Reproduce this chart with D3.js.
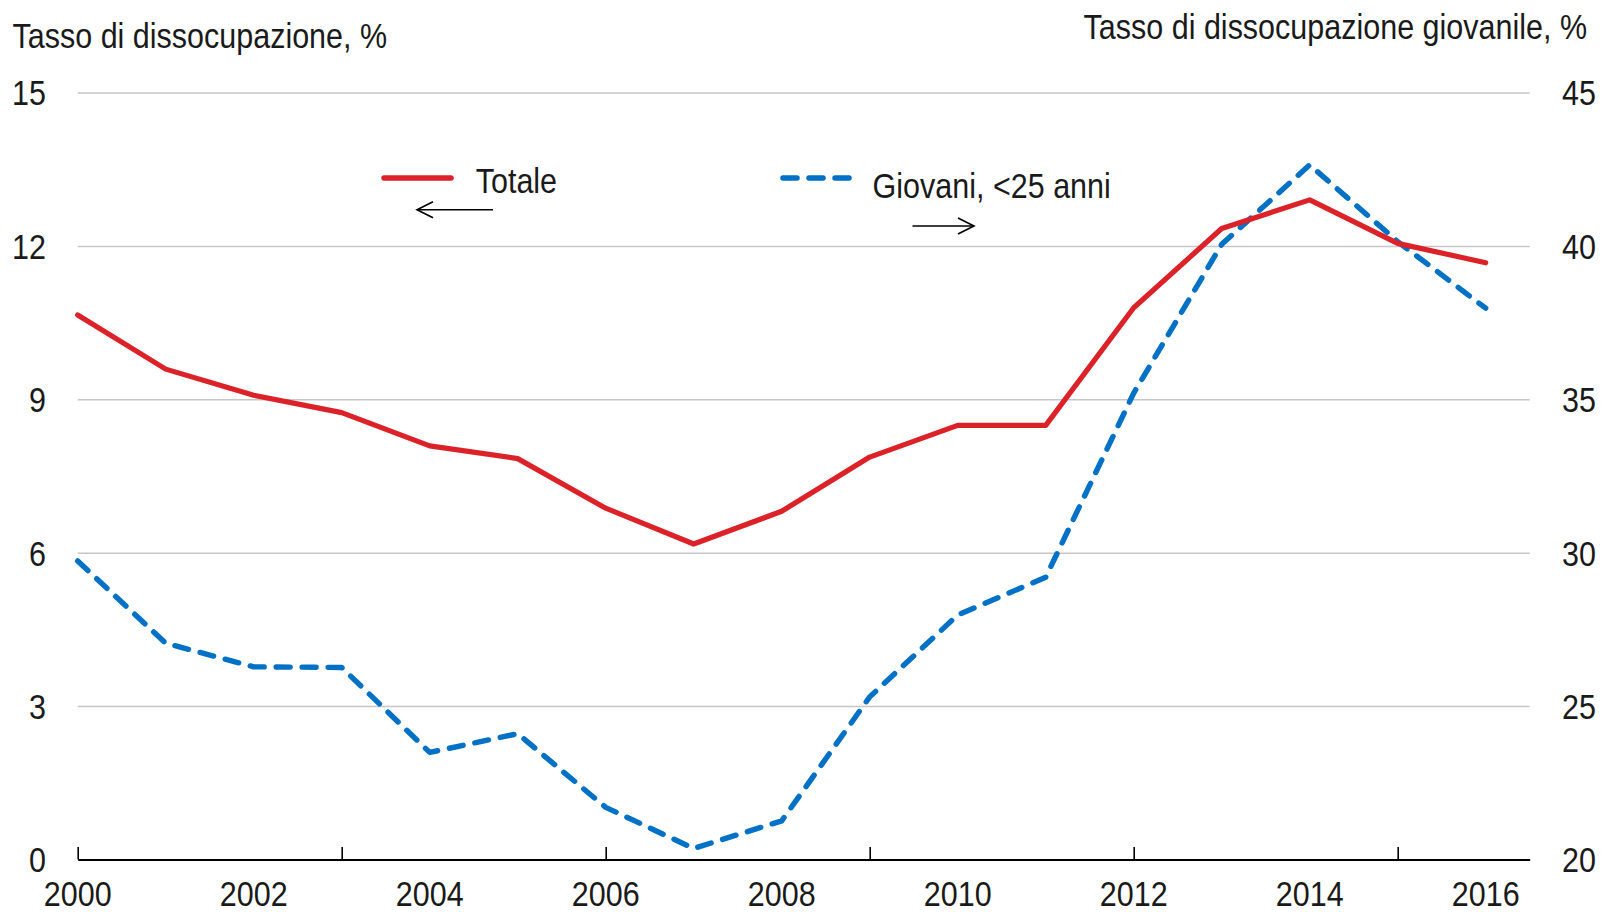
<!DOCTYPE html>
<html><head><meta charset="utf-8">
<script src="https://cdn.jsdelivr.net/npm/d3@7"></script>
<style>body{margin:0;background:#fff}</style>
</head><body><svg id="c" width="1604" height="912"></svg>
<script>
const years = [2000,2001,2002,2003,2004,2005,2006,2007,2008,2009,2010,2011,2012,2013,2014,2015,2016];
const totale = [10.65,9.59,9.08,8.74,8.09,7.84,6.87,6.17,6.81,7.87,8.49,8.49,10.79,12.34,12.9,12.05,11.67];
const giovani = [29.73,27.05,26.28,26.26,23.49,24.1,21.7,20.36,21.26,25.3,27.97,29.2,35.2,40.05,42.64,40.14,37.97];
const leftTicks = [0,3,6,9,12,15];
const rightTicks = [20,25,30,35,40,45];
const xTickYears = [2000,2003,2006,2009,2012,2015];
const xLabelYears = [2000,2002,2004,2006,2008,2010,2012,2014,2016];
const leftTitle = "Tasso di dissocupazione, %";
const rightTitle = "Tasso di dissocupazione giovanile, %";
const legendLabels = ["Totale", "Giovani, <25 anni"];

const RED = "#dc2229", BLUE = "#0071c5", TXT = "#1a1a1a";
const svg = d3.select("#c");

// detect condensed font
function hasFont(name){
  const a = svg.append("text").style("font-family", `'${name}', monospace`).style("font-size","36px").text("Tasso di dissocupazione");
  const b = svg.append("text").style("font-family", "monospace").style("font-size","36px").text("Tasso di dissocupazione");
  const wa = a.node().getComputedTextLength(), wb = b.node().getComputedTextLength();
  a.remove(); b.remove();
  return Math.abs(wa-wb) > 1;
}
const narrow = hasFont("Liberation Sans Narrow");
const FONT = narrow ? "'Liberation Sans Narrow','Arial Narrow',sans-serif" : "'Liberation Sans',Arial,sans-serif";
const SX = (narrow ? 1 : 0.82) * 1.033;

function addText(g, x, y, str, anchor){
  return g.append("text")
    .attr("transform", `translate(${x},${y}) scale(${SX},1)`)
    .attr("text-anchor", anchor)
    .style("font-family", FONT).style("font-size","36px")
    .attr("fill", TXT).text(str);
}

const X0 = 77.7, X1 = 1529.7, Y0 = 859.5, Y1 = 92.5;
const x = d3.scaleLinear().domain([2000, 2016.5]).range([X0, X1]);
const yL = d3.scaleLinear().domain([0,15]).range([Y0, Y1]);
const yR = d3.scaleLinear().domain([20,45]).range([Y0, Y1]);

// gridlines
const grid = svg.append("g").attr("transform", `translate(${X0},0)`)
  .call(d3.axisLeft(yL).tickValues(leftTicks.filter(d=>d>0)).tickSize(-(X1-X0)).tickFormat(""));
grid.select(".domain").remove();
grid.selectAll("line").attr("stroke","#c6c6c6").attr("stroke-width",1.5);

// x axis
const xa = svg.append("g").attr("transform", `translate(0,${Y0})`)
  .call(d3.axisBottom(x).tickValues(xTickYears).tickSize(-12.5).tickSizeOuter(0).tickFormat(""));
xa.select(".domain").attr("stroke","#000").attr("stroke-width",2);
xa.selectAll(".tick line").attr("stroke","#000").attr("stroke-width",1.6);

// labels
const lab = svg.append("g");
leftTicks.forEach(v => addText(lab, 46, yL(v)+12.9, String(v), "end"));
rightTicks.forEach(v => addText(lab, 1562, yR(v)+12.9, String(v), "start"));
xLabelYears.forEach(yr => addText(lab, x(yr), 905.5, String(yr), "middle"));
addText(lab, 12.5, 47.5, leftTitle, "start");
addText(lab, 1587, 38.5, rightTitle, "end");

// lines
const lineL = d3.line().x((d,i)=>x(years[i])).y(d=>yL(d));
const lineR = d3.line().x((d,i)=>x(years[i])).y(d=>yR(d));
svg.append("path").datum(giovani).attr("d", lineR).attr("fill","none")
  .attr("stroke",BLUE).attr("stroke-width",5.4).attr("stroke-dasharray","14,12").attr("stroke-linecap","round").attr("stroke-linejoin","round");
svg.append("path").datum(totale).attr("d", lineL).attr("fill","none")
  .attr("stroke",RED).attr("stroke-width",5.2).attr("stroke-linejoin","round").attr("stroke-linecap","round");

// legend
const lg = svg.append("g");
lg.append("line").attr("x1",384).attr("x2",451).attr("y1",178).attr("y2",178)
  .attr("stroke",RED).attr("stroke-width",5.5).attr("stroke-linecap","round");
addText(lg, 475.7, 192.5, legendLabels[0], "start");
lg.append("line").attr("x1",783).attr("x2",850).attr("y1",178).attr("y2",178)
  .attr("stroke",BLUE).attr("stroke-width",5.5).attr("stroke-dasharray","14,12").attr("stroke-linecap","round");
addText(lg, 872.6, 197.5, legendLabels[1], "start");

function arrow(g, xt, xe, y, dir){
  g.append("line").attr("x1",xt).attr("x2",xe).attr("y1",y).attr("y2",y).attr("stroke","#000").attr("stroke-width",1.6);
  g.append("path").attr("d",`M${xt+dir*16},${y-8}L${xt},${y}L${xt+dir*16},${y+8}`)
    .attr("fill","none").attr("stroke","#000").attr("stroke-width",1.6);
}
arrow(lg, 417, 493, 209.7, 1);
arrow(lg, 974, 912.5, 226, -1);
</script>
</body></html>
